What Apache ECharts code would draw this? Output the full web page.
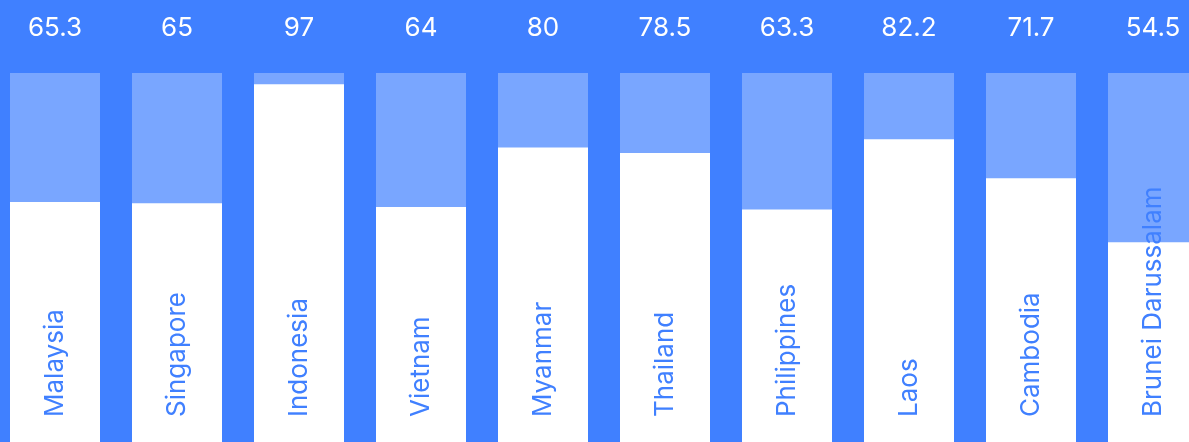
<!DOCTYPE html>
<html>
<head>
<meta charset="utf-8">
<script src="https://cdn.jsdelivr.net/npm/echarts@6/dist/echarts.min.js"></script>
<style>
html,body{margin:0;padding:0;background:#4080ff;}
#main{width:1189px;height:442px;}
</style>
</head>
<body>
<div id="main"></div>
<script>
const categories = ['Malaysia','Singapore','Indonesia','Vietnam','Myanmar','Thailand','Philippines','Laos','Cambodia','Brunei Darussalam'];
const values = [65.3, 65, 97, 64, 80, 78.5, 63.3, 82.2, 71.7, 54.5];

const chart = echarts.init(document.getElementById('main'));
chart.setOption({
  backgroundColor: '#4080ff',
  animation: false,
  grid: { left: -6, width: 1220, top: 73, height: 372, containLabel: false, outerBoundsMode: 'none' },
  xAxis: [
    { type: 'category', data: categories, show: false },
    { type: 'category', data: values.map(String), position: 'top',
      axisLine: { show: false }, axisTick: { show: false },
      axisLabel: { color: '#ffffff', fontSize: 26, margin: 32, fontFamily: 'Inter, sans-serif' } }
  ],
  yAxis: { type: 'value', min: 0, max: 100, show: false },
  series: [{
    type: 'bar',
    data: values,
    barWidth: 90,
    showBackground: true,
    backgroundStyle: { color: 'rgba(255,255,255,0.3)' },
    itemStyle: { color: '#ffffff' },
    label: {
      show: true,
      position: 'insideBottom',
      rotate: 90,
      align: 'left',
      verticalAlign: 'middle',
      distance: 28,
      color: '#4080ff',
      fontSize: 26,
      fontFamily: 'Inter, sans-serif',
      formatter: p => categories[p.dataIndex]
    }
  }]
});
</script>
</body>
</html>
